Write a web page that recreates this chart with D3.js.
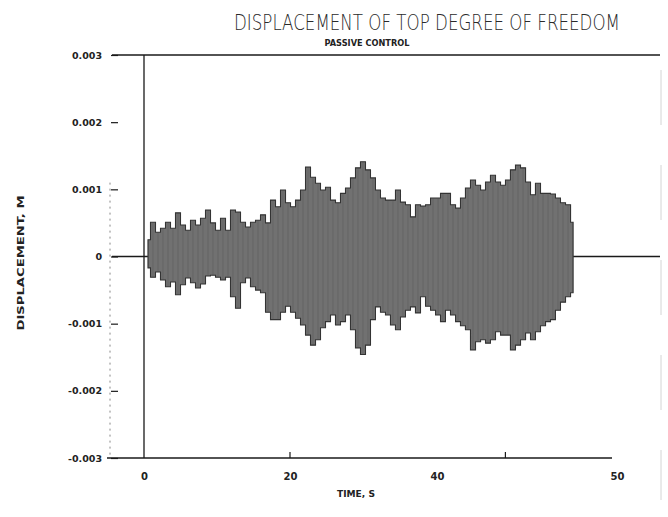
<!DOCTYPE html>
<html>
<head>
<meta charset="utf-8">
<script src="https://cdn.jsdelivr.net/npm/d3@7"></script>
<style>
  body { margin: 0; background: #fff; }
  svg { display: block; }
</style>
</head>
<body>
<svg class="svg_parent"></svg>
<script>
// trace samples: time (s), upper and lower envelope (m)
var times = [0.55, 1.23, 1.92, 2.60, 3.29, 3.97, 4.66, 5.34, 6.03, 6.71, 7.40, 8.08, 8.77, 9.45, 10.14, 10.82,
  11.51, 12.19, 12.88, 13.56, 14.25, 14.93, 15.62, 16.30, 16.99, 17.67, 18.36, 19.04, 19.73,
  20.41, 21.09, 21.77, 22.45, 23.13, 23.81, 24.49, 25.17, 25.85, 26.53, 27.21, 27.89, 28.57, 29.25, 29.93,
  30.61, 31.29, 31.97, 32.65, 33.33, 34.01, 34.69, 35.37, 36.05, 36.73, 37.41, 38.10, 38.78, 39.46,
  40.06, 40.33, 40.61, 40.89, 41.17, 41.44, 41.72, 42.00, 42.28, 42.56, 42.83, 43.11, 43.39, 43.67, 43.94,
  44.22, 44.50, 44.78, 45.06, 45.33, 45.61, 45.89, 46.17, 46.44, 46.72, 47.00, 47.28, 47.56]

var upper = [0.00025, 0.00051, 0.00036, 0.00042, 0.00051, 0.00042, 0.00065, 0.00047, 0.00039, 0.00054, 0.00047, 0.00057,
  0.00069, 0.00050, 0.00039, 0.00057, 0.00039, 0.00069, 0.00066, 0.00051, 0.00044, 0.00051, 0.00054, 0.00062,
  0.00050, 0.00084, 0.00074, 0.00099, 0.00080,
  0.00074, 0.00084, 0.00099, 0.00133, 0.00118, 0.00109, 0.00099, 0.00103, 0.00084, 0.00080, 0.00094, 0.00102,
  0.00117, 0.00132, 0.00141, 0.00129, 0.00117, 0.00099, 0.00087, 0.00084, 0.00084, 0.00099, 0.00081, 0.00077,
  0.00059, 0.00077, 0.00075, 0.00077, 0.00087,
  0.00087, 0.00094, 0.00094, 0.00077, 0.00072, 0.00087, 0.00102, 0.00114, 0.00106, 0.00099, 0.00111, 0.00121,
  0.00111, 0.00106, 0.00114, 0.00129, 0.00136, 0.00132, 0.00111, 0.00092, 0.00109, 0.00094, 0.00094, 0.00093,
  0.00087, 0.00080, 0.00077, 0.00051]

var lower = [-0.00017, -0.00031, -0.00023, -0.00035, -0.00045, -0.00038, -0.00057, -0.00042, -0.00032, -0.00039, -0.00047,
  -0.00041, -0.00029, -0.00028, -0.00031, -0.00035, -0.00031, -0.00060, -0.00077, -0.00039, -0.00032, -0.00045,
  -0.00050, -0.00054, -0.00083, -0.00094, -0.00094, -0.00083, -0.00074,
  -0.00083, -0.00092, -0.00102, -0.00117, -0.00132, -0.00124, -0.00106, -0.00097, -0.00087, -0.00102, -0.00097,
  -0.00087, -0.00109, -0.00136, -0.00146, -0.00132, -0.00094, -0.00075, -0.00083, -0.00087, -0.00102, -0.00109,
  -0.00090, -0.00080, -0.00075, -0.00084, -0.00060, -0.00074, -0.00080,
  -0.00087, -0.00097, -0.00080, -0.00087, -0.00097, -0.00103, -0.00109, -0.00139, -0.00127, -0.00124, -0.00129,
  -0.00124, -0.00112, -0.00117, -0.00117, -0.00139, -0.00132, -0.00124, -0.00114, -0.00124, -0.00112, -0.00103,
  -0.00097, -0.00094, -0.00080, -0.00068, -0.00060, -0.00054]

// axis ticks
var xTicks = [0, 20, 40, 50]
var xMinorTicks = [20, 43.8]
var yTicks = [0.003, 0.002, 0.001, 0, -0.001, -0.002, -0.003]
var yTickLabels = ['0.003', '0.002', '0.001', '0', '-0.001', '-0.002', '-0.003']

var width = 668, height = 517

var container = d3.select('.svg_parent')
  .attr('width', width)
  .attr('height', height)

// scanned axis is not evenly spaced, so the x scale is piecewise
var x_scale = d3.scaleLinear().domain([0, 20, 40, 50]).range([144, 290, 437, 617])
var y_scale = d3.scaleLinear().domain([-0.003, 0.003]).range([458, 55])

var data = times.map((t, i) => ({t: t, hi: upper[i], lo: lower[i]}))

//frame lines
container.append('line')
  .attr('x1', 112).attr('x2', 660)
  .attr('y1', y_scale(0.003)).attr('y2', y_scale(0.003))
  .attr('stroke', '#1a1a1a').attr('stroke-width', 1.3)
container.append('line')
  .attr('x1', 112).attr('x2', 660)
  .attr('y1', y_scale(0)).attr('y2', y_scale(0))
  .attr('stroke', '#1a1a1a').attr('stroke-width', 1.3)
container.append('line')
  .attr('x1', x_scale(0)).attr('x2', x_scale(0))
  .attr('y1', y_scale(0.003)).attr('y2', y_scale(-0.003))
  .attr('stroke', '#1a1a1a').attr('stroke-width', 1.3)
container.append('line')
  .attr('x1', 107).attr('x2', 612)
  .attr('y1', y_scale(-0.003)).attr('y2', y_scale(-0.003))
  .attr('stroke', '#1a1a1a').attr('stroke-width', 1.3)
// faint dotted left axis
container.append('line')
  .attr('x1', 110).attr('x2', 110)
  .attr('y1', y_scale(0.0011)).attr('y2', y_scale(-0.003))
  .attr('stroke', '#888').attr('stroke-width', 1)
  .attr('stroke-dasharray', '2,4')
// faint paper edge on the right
container.append('line')
  .attr('x1', 661).attr('x2', 661)
  .attr('y1', 70).attr('y2', 500)
  .attr('stroke', '#d4d4d4').attr('stroke-width', 1)
  .attr('stroke-dasharray', '55,40')

//signal band
var areaGen = d3.area()
  .x(d => x_scale(d.t))
  .y0(d => y_scale(d.lo))
  .y1(d => y_scale(d.hi))
  .curve(d3.curveStep)

container.append('path')
  .datum(data)
  .attr('d', areaGen)
  .attr('fill', '#717171')
  .attr('stroke', '#333')
  .attr('stroke-width', 1.1)

container.selectAll('.spike').data(data).join('line')
  .attr('class', 'spike')
  .attr('x1', d => x_scale(d.t)).attr('x2', d => x_scale(d.t))
  .attr('y1', d => y_scale(d.lo)).attr('y2', d => y_scale(d.hi))
  .attr('stroke', '#4a4a4a')
  .attr('stroke-width', 1)
  .attr('opacity', 0.3)

//axes
var xAxis = container.append('g')
  .attr('transform', `translate(0,${y_scale(-0.003)})`)
  .call(d3.axisBottom(x_scale).tickValues(xTicks).tickSize(0).tickPadding(15).tickFormat(d3.format('d')))
xAxis.select('.domain').remove()
xAxis.selectAll('text')
  .style('font-family', 'DejaVu Sans, sans-serif')
  .style('font-size', '10px')
  .style('font-weight', 'bold')
  .attr('fill', '#222')

container.selectAll('.x-minor').data(xMinorTicks).join('line')
  .attr('class', 'x-minor')
  .attr('x1', d => x_scale(d)).attr('x2', d => x_scale(d))
  .attr('y1', y_scale(-0.003)).attr('y2', y_scale(-0.003) - 6)
  .attr('stroke', '#1a1a1a').attr('stroke-width', 1.2)

var yAxis = container.append('g')
  .attr('transform', 'translate(118,0)')
  .call(d3.axisLeft(y_scale).tickValues(yTicks).tickSize(7).tickPadding(9)
    .tickFormat((d, i) => yTickLabels[i]))
yAxis.select('.domain').remove()
yAxis.selectAll('.tick line').attr('stroke', '#1a1a1a').attr('stroke-width', 1.2)
yAxis.selectAll('text')
  .style('font-family', 'DejaVu Sans, sans-serif')
  .style('font-size', '9.5px')
  .style('font-weight', 'bold')
  .attr('fill', '#222')

//titles
container.append('text')
  .attr('transform', 'translate(427,30) scale(1,1.3)')
  .attr('text-anchor', 'middle')
  .attr('textLength', 386)
  .attr('lengthAdjust', 'spacingAndGlyphs')
  .style('font-family', 'DejaVu Sans, sans-serif')
  .style('font-size', '16.5px')
  .style('font-weight', 300)
  .attr('fill', '#2a2a2a')
  .text('DISPLACEMENT OF TOP DEGREE OF FREEDOM')

container.append('text')
  .attr('x', 367).attr('y', 46)
  .attr('text-anchor', 'middle')
  .attr('textLength', 85)
  .attr('lengthAdjust', 'spacingAndGlyphs')
  .style('font-family', 'DejaVu Sans, sans-serif')
  .style('font-size', '8px')
  .style('font-weight', 'bold')
  .attr('fill', '#222')
  .text('PASSIVE CONTROL')

container.append('text')
  .attr('transform', 'translate(24,263) rotate(-90)')
  .attr('text-anchor', 'middle')
  .attr('textLength', 135)
  .attr('lengthAdjust', 'spacingAndGlyphs')
  .style('font-family', 'DejaVu Sans, sans-serif')
  .style('font-size', '9px')
  .style('font-weight', 'bold')
  .attr('fill', '#222')
  .text('DISPLACEMENT, M')

container.append('text')
  .attr('x', 356).attr('y', 497)
  .attr('text-anchor', 'middle')
  .attr('textLength', 38)
  .attr('lengthAdjust', 'spacingAndGlyphs')
  .style('font-family', 'DejaVu Sans, sans-serif')
  .style('font-size', '9px')
  .style('font-weight', 'bold')
  .attr('fill', '#222')
  .text('TIME, S')
</script>
</body>
</html>
